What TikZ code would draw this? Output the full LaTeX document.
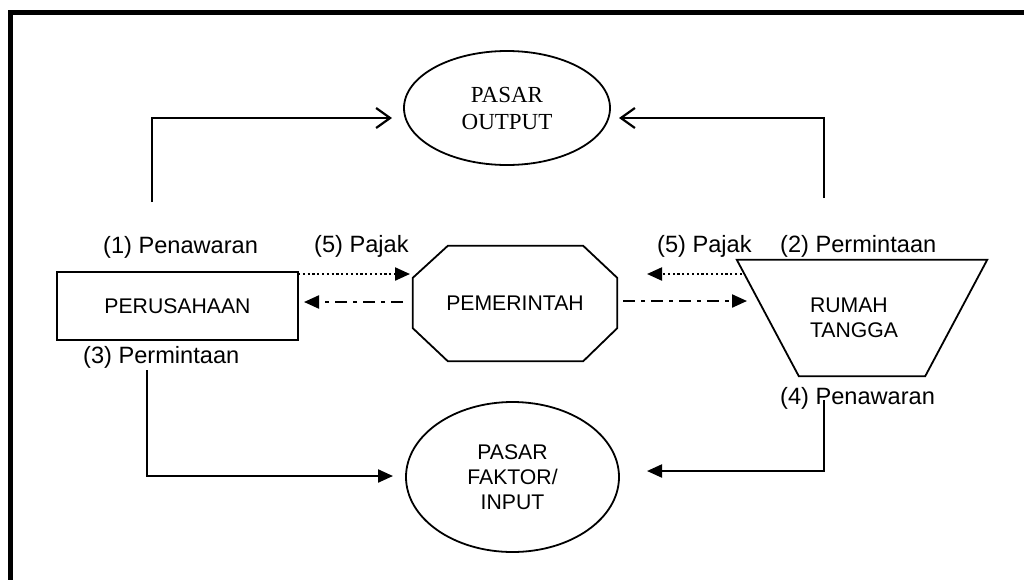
\documentclass[tikz,border=0pt]{standalone}
\usepackage{fontspec}
\setmainfont{Liberation Serif}
\newfontfamily\arialfont{Liberation Sans}
\usetikzlibrary{arrows.meta,shapes.geometric}
\begin{document}
\begin{tikzpicture}[x=1pt,y=-1pt,
  shapeline/.style={line width=1.8pt},
  conn/.style={line width=2.2pt},
  filltip/.style={-{Triangle[length=15pt,width=13pt]}},
  opentip/.style={-{Straight Barb[length=14pt,width=20pt]}},
  dotline/.style={conn, dash pattern=on 2.2pt off 2.6pt},
  dashdotline/.style={conn, dash pattern=on 12pt off 6pt on 4pt off 6pt},
  lbl/.style={font=\arialfont\fontsize{23.6}{28}\selectfont, inner sep=0pt, anchor=base west},
  sansnode/.style={font=\arialfont\fontsize{21.2}{25}\selectfont, align=center},
]
\useasboundingbox (0,0) rectangle (1024,579);
\fill[white] (0,0) rectangle (1024,579);
\draw[line width=5pt] (10,12.5) rectangle (1045,600);

% nodes
\node[draw, shapeline, ellipse, minimum width=206pt, minimum height=114pt, inner sep=0pt,
      font=\fontsize{23}{27}\selectfont, align=center] (out) at (507,108) {PASAR\\OUTPUT};
\node[draw, shapeline, rectangle, minimum width=241pt, minimum height=68pt, sansnode] (perus) at (177.5,306) {PERUSAHAAN};
\node[minimum width=204pt, minimum height=115pt, sansnode] (pem) at (515,303.5) {PEMERINTAH};
\draw[shapeline] ([xshift=35pt]pem.north west) -- ([xshift=-34pt]pem.north east)
  -- ([yshift=-32pt]pem.north east) -- ([yshift=33pt]pem.south east)
  -- ([xshift=-34pt]pem.south east) -- ([xshift=35pt]pem.south west)
  -- ([yshift=33pt]pem.south west) -- ([yshift=-32pt]pem.north west) -- cycle;
\node[minimum width=250pt, minimum height=116pt, sansnode, text width=104pt, align=left] (rt) at (862,318) {RUMAH\\TANGGA};
\draw[shapeline] (rt.north west) -- (rt.north east) -- ([xshift=-62pt]rt.south east) -- ([xshift=62pt]rt.south west) -- cycle;
\node[draw, shapeline, ellipse, minimum width=213pt, minimum height=150pt, inner sep=0pt, sansnode] (inp) at (512.5,477) {PASAR\\FAKTOR/\\INPUT};

% labels
\node[lbl] (l1) at (103,253) {(1) Penawaran};
\node[lbl] (l5a) at (314,252) {(5) Pajak};
\node[lbl] (l5b) at (657,252) {(5) Pajak};
\node[lbl] (l2) at (780,252) {(2) Permintaan};
\node[lbl] (l3) at (83,363) {(3) Permintaan};
\node[lbl] (l4) at (780,404) {(4) Penawaran};

% connector ends
\coordinate (s1) at (152,202); \coordinate (t1) at (392,118);
\coordinate (s2) at (824,198); \coordinate (t2) at (619,118);
\coordinate (s3) at (147,370); \coordinate (t3) at (393,476);
\coordinate (s4) at (824,400); \coordinate (t4) at (647,471);
\coordinate (d1s) at (298,274); \coordinate (d1t) at (410,274);
\coordinate (d2s) at (403,302); \coordinate (d2t) at (304,302);
\coordinate (d3s) at (742,274); \coordinate (d3t) at (647,274);
\coordinate (d4s) at (623,301); \coordinate (d4t) at (747,301);

% connectors
\draw[conn, opentip] (s1) |- (t1);
\draw[conn, opentip] (s2) |- (t2);
\draw[conn, filltip] (s3) |- (t3);
\draw[conn, filltip] (s4) |- (t4);
\draw[dotline, filltip] (d1s) -- (d1t);
\draw[dashdotline, filltip] (d2s) -- (d2t);
\draw[dotline, filltip] (d3s) -- (d3t);
\draw[dashdotline, filltip] (d4s) -- (d4t);
\end{tikzpicture}
\end{document}
